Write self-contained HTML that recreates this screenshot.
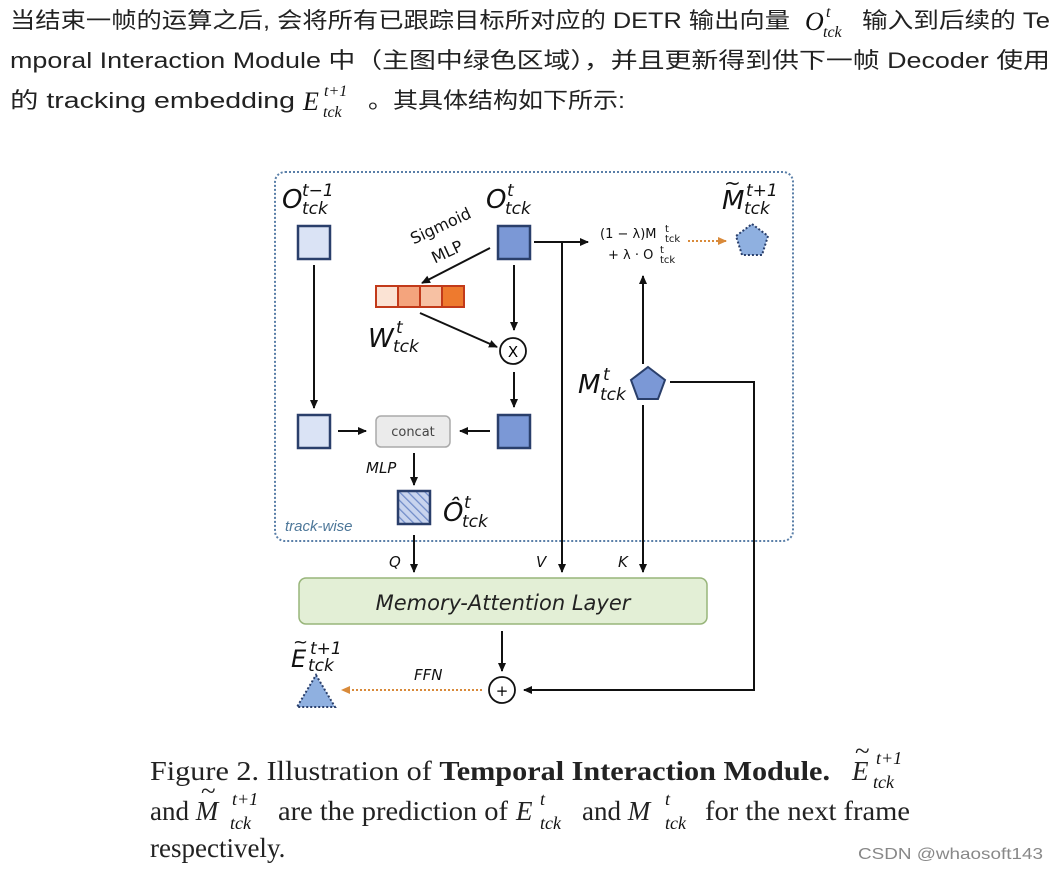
<!DOCTYPE html>
<html><head><meta charset="utf-8"><style>
html,body{margin:0;padding:0;background:#fff;width:1058px;height:869px;overflow:hidden}
svg{display:block}
.t{font-family:"Liberation Sans","Noto Sans CJK SC",sans-serif;font-size:22px;fill:#222}
.m{font-family:"Liberation Serif",serif;font-style:italic;fill:#111}
.d{font-family:"DejaVu Sans","Liberation Sans",sans-serif;fill:#111}
.c{font-family:"Liberation Serif",serif;font-size:27px;fill:#222}
</style></head><body>
<svg width="1058" height="869" viewBox="0 0 1058 869" xmlns="http://www.w3.org/2000/svg">
<defs>
<marker id="a" markerWidth="10" markerHeight="10" refX="8" refY="5" orient="auto" markerUnits="userSpaceOnUse"><path d="M0,1 L9,5 L0,9 z" fill="#111"/></marker>
<marker id="o" markerWidth="10" markerHeight="10" refX="8" refY="5" orient="auto" markerUnits="userSpaceOnUse"><path d="M0,1 L9,5 L0,9 z" fill="#d98a3a"/></marker>
<pattern id="h" width="6" height="6" patternUnits="userSpaceOnUse" patternTransform="rotate(-45)"><rect width="6" height="6" fill="#c8d4ee"/><line x1="0" y1="0" x2="0" y2="6" stroke="#6f8bc8" stroke-width="2.5"/></pattern>
</defs>
<!-- top text -->
<text class="t" x="10" y="28" textLength="780" lengthAdjust="spacingAndGlyphs">当结束一帧的运算之后, 会将所有已跟踪目标所对应的 DETR 输出向量</text>
<text class="m" x="805" y="30" font-size="26">O</text><text class="m" x="826" y="17" font-size="16">t</text><text class="m" x="823" y="37" font-size="16">tck</text>
<text class="t" x="862" y="28" textLength="188" lengthAdjust="spacingAndGlyphs">输入到后续的 Te</text>
<text class="t" x="10" y="68" textLength="1040" lengthAdjust="spacingAndGlyphs">mporal Interaction Module 中（主图中绿色区域），并且更新得到供下一帧 Decoder 使用</text>
<text class="t" x="10" y="108" textLength="285" lengthAdjust="spacingAndGlyphs">的 tracking embedding</text>
<text class="m" x="303" y="110" font-size="26">E</text><text class="m" x="324" y="96" font-size="16">t+1</text><text class="m" x="323" y="117" font-size="16">tck</text>
<text class="t" x="368" y="108" textLength="257" lengthAdjust="spacingAndGlyphs">。其具体结构如下所示:</text>

<!-- dotted region -->
<rect x="275" y="172" width="518" height="369" rx="10" fill="none" stroke="#5a7fa8" stroke-width="2" stroke-dasharray="2,2"/>
<text x="285" y="531" font-family="Liberation Sans,sans-serif" font-style="italic" font-size="15" fill="#4d7799">track-wise</text>

<!-- labels -->
<text class="d" x="282" y="208" font-size="26" font-style="italic">O</text><text class="d" x="302" y="196" font-size="17" font-style="italic">t−1</text><text class="d" x="302" y="214" font-size="17" font-style="italic">tck</text>
<text class="d" x="486" y="208" font-size="26" font-style="italic">O</text><text class="d" x="507" y="196" font-size="17" font-style="italic">t</text><text class="d" x="505" y="214" font-size="17" font-style="italic">tck</text>
<text class="d" x="722" y="209" font-size="26" font-style="italic">M</text><text class="d" x="724" y="190" font-size="20">~</text><text class="d" x="746" y="196" font-size="17" font-style="italic">t+1</text><text class="d" x="744" y="214" font-size="17" font-style="italic">tck</text>
<text class="d" x="406" y="240" font-size="16" transform="rotate(-25 420 225)">Sigmoid</text>
<text class="d" x="430" y="258" font-size="16" transform="rotate(-25 445 250)">MLP</text>
<text class="d" x="368" y="347" font-size="26" font-style="italic">W</text><text class="d" x="396" y="333" font-size="17" font-style="italic">t</text><text class="d" x="393" y="352" font-size="17" font-style="italic">tck</text>
<text class="d" x="578" y="393" font-size="26" font-style="italic">M</text><text class="d" x="603" y="380" font-size="17" font-style="italic">t</text><text class="d" x="600" y="400" font-size="17" font-style="italic">tck</text>
<text class="d" x="600" y="238" font-size="13">(1 − λ)M</text><text class="d" x="665" y="232" font-size="10">t</text><text class="d" x="665" y="242" font-size="10">tck</text>
<text class="d" x="608" y="259" font-size="13">+ λ · O</text><text class="d" x="660" y="253" font-size="10">t</text><text class="d" x="660" y="263" font-size="10">tck</text>
<text class="d" x="443" y="521" font-size="26" font-style="italic">Ô</text><text class="d" x="464" y="508" font-size="17" font-style="italic">t</text><text class="d" x="462" y="527" font-size="17" font-style="italic">tck</text>
<text class="d" x="366" y="473" font-size="15" font-style="italic">MLP</text>

<!-- squares -->
<rect x="298" y="226" width="32" height="33" fill="#dae3f5" stroke="#2a3f6b" stroke-width="2.5"/>
<rect x="498" y="226" width="32" height="33" fill="#7b98d6" stroke="#2a3f6b" stroke-width="2.5"/>
<rect x="298" y="415" width="32" height="33" fill="#dae3f5" stroke="#2a3f6b" stroke-width="2.5"/>
<rect x="498" y="415" width="32" height="33" fill="#7b98d6" stroke="#2a3f6b" stroke-width="2.5"/>
<rect x="398" y="491" width="32" height="33" fill="url(#h)" stroke="#2a3f6b" stroke-width="2.5"/>
<!-- orange bar -->
<rect x="376" y="286" width="22" height="21" fill="#fbe3d4" stroke="#c23a1a" stroke-width="2"/>
<rect x="398" y="286" width="22" height="21" fill="#f4a47d" stroke="#c23a1a" stroke-width="2"/>
<rect x="420" y="286" width="22" height="21" fill="#f7c1a3" stroke="#c23a1a" stroke-width="2"/>
<rect x="442" y="286" width="22" height="21" fill="#ee7a2e" stroke="#c23a1a" stroke-width="2"/>
<!-- concat -->
<rect x="376" y="416" width="74" height="31" rx="5" fill="#ebebeb" stroke="#aaa" stroke-width="1.5"/>
<text x="413" y="436" text-anchor="middle" font-family="DejaVu Sans,sans-serif" font-size="13" fill="#444">concat</text>
<!-- X circle -->
<circle cx="513" cy="351" r="13" fill="#fff" stroke="#111" stroke-width="1.8"/>
<text x="513" y="357" text-anchor="middle" font-family="DejaVu Sans,sans-serif" font-size="15">X</text>
<!-- pentagons -->
<polygon points="648,367 665,380 658,399 638,399 631,380" fill="#7b98d6" stroke="#2a3f6b" stroke-width="2"/>
<polygon points="752,224 768,236 762,255 742,255 736,236" fill="#8fb0e0" stroke="#2a3f6b" stroke-width="2" stroke-dasharray="2,2"/>

<!-- arrows -->
<g stroke="#111" stroke-width="2" fill="none">
<line x1="314" y1="265" x2="314" y2="408" marker-end="url(#a)"/>
<line x1="490" y1="248" x2="422" y2="283" marker-end="url(#a)"/>
<line x1="514" y1="265" x2="514" y2="330" marker-end="url(#a)"/>
<line x1="420" y1="313" x2="497" y2="347" marker-end="url(#a)"/>
<line x1="514" y1="372" x2="514" y2="407" marker-end="url(#a)"/>
<line x1="338" y1="431" x2="366" y2="431" marker-end="url(#a)"/>
<line x1="490" y1="431" x2="460" y2="431" marker-end="url(#a)"/>
<line x1="414" y1="453" x2="414" y2="485" marker-end="url(#a)"/>
<line x1="414" y1="535" x2="414" y2="572" marker-end="url(#a)"/>
<line x1="534" y1="242" x2="588" y2="242" marker-end="url(#a)"/>
<line x1="562" y1="242" x2="562" y2="572" marker-end="url(#a)"/>
<line x1="643" y1="364" x2="643" y2="276" marker-end="url(#a)"/>
<line x1="643" y1="405" x2="643" y2="572" marker-end="url(#a)"/>
<polyline points="670,382 754,382 754,690 524,690" marker-end="url(#a)"/>
<line x1="502" y1="631" x2="502" y2="671" marker-end="url(#a)"/>
</g>
<line x1="688" y1="241" x2="726" y2="241" stroke="#d98a3a" stroke-width="2" stroke-dasharray="2,2" marker-end="url(#o)"/>
<line x1="482" y1="690" x2="342" y2="690" stroke="#d98a3a" stroke-width="2" stroke-dasharray="2,2" marker-end="url(#o)"/>

<text class="d" x="389" y="567" font-size="15" font-style="italic">Q</text>
<text class="d" x="536" y="567" font-size="15" font-style="italic">V</text>
<text class="d" x="618" y="567" font-size="15" font-style="italic">K</text>
<!-- memory layer -->
<rect x="299" y="578" width="408" height="46" rx="7" fill="#e3efd6" stroke="#98b57a" stroke-width="1.5"/>
<text x="503" y="610" text-anchor="middle" font-family="DejaVu Sans,sans-serif" font-style="italic" font-size="21" fill="#222">Memory-Attention Layer</text>
<!-- plus -->
<circle cx="502" cy="690" r="13" fill="#fff" stroke="#111" stroke-width="1.8"/>
<text x="502" y="696" text-anchor="middle" font-family="DejaVu Sans,sans-serif" font-size="15">+</text>
<text class="d" x="414" y="680" font-size="15" font-style="italic">FFN</text>
<!-- triangle E -->
<polygon points="316,675 335,707 297,707" fill="#8fb0e0" stroke="#2a3f6b" stroke-width="2" stroke-dasharray="2,2"/>
<text class="d" x="291" y="667" font-size="24" font-style="italic">E</text><text class="d" x="293" y="648" font-size="18">~</text>
<text class="d" x="310" y="654" font-size="17" font-style="italic">t+1</text><text class="d" x="308" y="671" font-size="17" font-style="italic">tck</text>

<!-- caption -->
<text class="c" x="150" y="780" textLength="680" lengthAdjust="spacingAndGlyphs">Figure 2. Illustration of <tspan font-weight="bold">Temporal Interaction Module.</tspan></text>
<text class="c" x="852" y="780" font-style="italic">E</text><text class="c" x="855" y="760" font-size="18">~</text>
<text class="m" x="876" y="764" font-size="18">t+1</text><text class="m" x="873" y="788" font-size="18">tck</text>
<text class="c" x="150" y="820">and <tspan font-style="italic">M</tspan></text>
<text class="c" x="201" y="800" font-size="18">~</text>
<text class="m" x="232" y="805" font-size="18">t+1</text><text class="m" x="230" y="829" font-size="18">tck</text>
<text class="c" x="278" y="820" textLength="230" lengthAdjust="spacingAndGlyphs">are the prediction of</text><text class="c" x="516" y="820" font-style="italic">E</text>
<text class="m" x="540" y="805" font-size="18">t</text><text class="m" x="540" y="829" font-size="18">tck</text>
<text class="c" x="582" y="820">and <tspan font-style="italic">M</tspan></text>
<text class="m" x="665" y="805" font-size="18">t</text><text class="m" x="665" y="829" font-size="18">tck</text>
<text class="c" x="705" y="820" textLength="205" lengthAdjust="spacingAndGlyphs">for the next frame</text>
<text class="c" x="150" y="857">respectively.</text>
<text x="858" y="859" font-family="Liberation Sans,sans-serif" font-size="16" fill="#888" textLength="185" lengthAdjust="spacingAndGlyphs">CSDN @whaosoft143</text>
</svg>
</body></html>
